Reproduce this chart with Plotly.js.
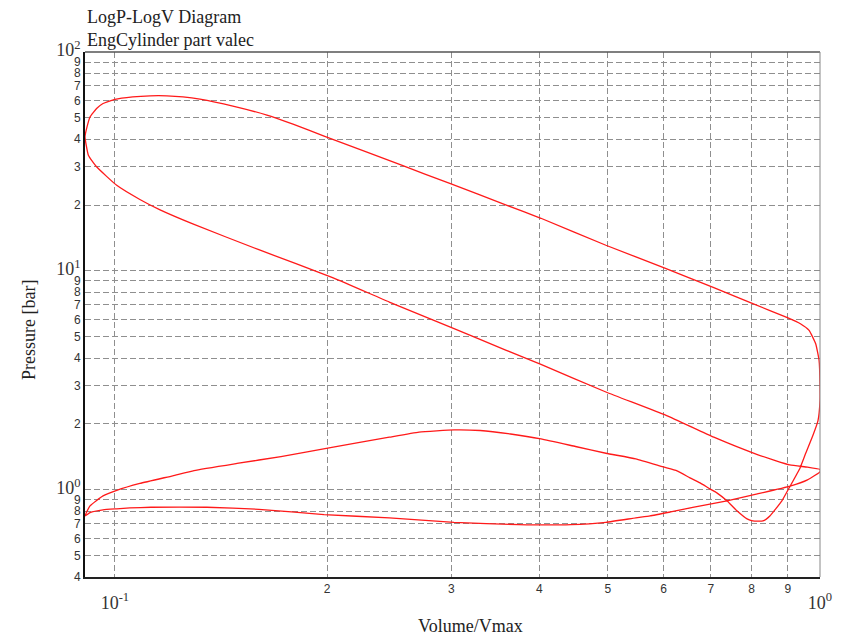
<!DOCTYPE html>
<html>
<head>
<meta charset="utf-8">
<script src="https://cdn.plot.ly/plotly-3.0.1.min.js"></script>
<style>html,body{margin:0;padding:0;background:#fff;}#chart{width:845px;height:636px;}</style>
</head>
<body>
<div id="chart"></div>
<script>
// Cycle traced in order: expansion -> blowdown/exhaust -> intake -> compression -> combustion
const expansionV = [0.0907,0.0913,0.0922,0.0942,0.0962,0.1,0.106,0.1122,0.1185,0.1249,0.132,0.147,0.1643,0.1789,0.198,0.255,0.2985,0.359,0.402,0.497,0.605,0.707,0.803,0.899,0.938,0.965,0.986,0.997,1.0,1.0];
const expansionP = [41.0,45.5,50.5,55.2,58.2,60.8,62.4,63.1,63.1,62.4,60.9,56.6,51.5,46.8,41.3,30.4,25.1,20.0,17.4,13.1,10.25,8.39,7.09,6.12,5.74,5.35,4.65,3.90,3.0,2.55];

const exhaustV = [0.9935,0.977,0.955,0.937,0.907,0.883,0.849,0.83,0.803,0.788,0.763,0.738,0.714,0.698,0.676,0.654,0.627,0.599,0.548,0.497,0.450,0.402,0.364,0.3296,0.3027,0.270,0.245,0.204,0.172,0.149,0.1295,0.1208,0.1085,0.1006,0.0962,0.0922,0.0907];
const exhaustP = [2.07,1.77,1.476,1.26,1.04,0.891,0.76,0.721,0.721,0.737,0.80,0.891,0.969,1.01,1.076,1.135,1.222,1.274,1.386,1.47,1.578,1.71,1.80,1.867,1.88,1.835,1.74,1.567,1.42,1.32,1.225,1.16,1.07,0.995,0.939,0.845,0.760];

const intakeV = [0.0922,0.0962,0.1006,0.105,0.1125,0.135,0.160,0.198,0.245,0.3027,0.374,0.443,0.497,0.548,0.574,0.614,0.66,0.738,0.815,0.907,0.96,1.0];
const intakeP = [0.787,0.81,0.819,0.827,0.833,0.833,0.815,0.771,0.745,0.711,0.694,0.694,0.711,0.745,0.76,0.793,0.831,0.891,0.958,1.04,1.11,1.21];

const compressionV = [1.0,0.96,0.906,0.815,0.707,0.605,0.497,0.402,0.359,0.3027,0.245,0.204,0.160,0.1295,0.1159,0.1085,0.1006,0.0942,0.0917,0.0907];
const compressionP = [1.24,1.27,1.30,1.45,1.74,2.19,2.80,3.74,4.34,5.45,7.21,9.3,12.5,16.3,19.0,21.2,24.6,29.9,33.8,41.0];

const xTickVals = [0.1,0.2,0.3,0.4,0.5,0.6,0.7,0.8,0.9,1];
const xTickText = ['-1','2','3','4','5','6','7','8','9','0'];
const yTickVals = [0.4,0.5,0.6,0.7,0.8,0.9,1,2,3,4,5,6,7,8,9,10,20,30,40,50,60,70,80,90,100];
const yTickText = ['4','5','6','7','8','9','0','2','3','4','5','6','7','8','9','1','2','3','4','5','6','7','8','9','2'];
const yPowerTicks = [1,10,100];
const xPowerTicks = [0.1,1];

const big = (e) => '<span style="font-family:\'Liberation Serif\';font-size:18px">10<sup>' + e + '</sup></span>';
const xText = xTickVals.map((v,i) => xPowerTicks.includes(v) ? '<br>' + big(xTickText[i]) : xTickText[i]);
const yText = yTickVals.map((v,i) => yPowerTicks.includes(v) ? big(yTickText[i]) : yTickText[i]);

const V = expansionV.concat(exhaustV, intakeV, compressionV);
const P = expansionP.concat(exhaustP, intakeP, compressionP);

const trace = {
  x: V, y: P, type: 'scatter', mode: 'lines',
  line: {color: '#ff1a1a', width: 1.3, shape: 'spline', smoothing: 0.4},
  hoverinfo: 'x+y', showlegend: false
};

const gridStyle = {gridcolor: '#8f8f8f', griddash: '6px,3px', gridwidth: 1};

const layout = {
  width: 845, height: 636,
  margin: {l: 85, r: 25, t: 52, b: 59},
  paper_bgcolor: '#fff', plot_bgcolor: '#fff',
  showlegend: false,
  xaxis: Object.assign({
    type: 'log', range: [Math.log10(0.0907), 0],
    tickmode: 'array', tickvals: xTickVals, ticktext: xText,
    tickfont: {family: 'Liberation Sans', size: 12, color: '#333'},
    showline: true, linecolor: '#222', linewidth: 2,
    ticks: '', zeroline: false, fixedrange: true
  }, gridStyle),
  yaxis: Object.assign({
    type: 'log', range: [Math.log10(0.4), 2],
    tickmode: 'array', tickvals: yTickVals, ticktext: yText,
    tickfont: {family: 'Liberation Sans', size: 12, color: '#333'},
    showline: true, linecolor: '#111', linewidth: 2,
    ticks: '', zeroline: false, fixedrange: true
  }, gridStyle),
  shapes: [
    {type: 'line', xref: 'paper', yref: 'paper', x0: 0, x1: 1, y0: 1, y1: 1, line: {color: '#555', width: 1.5}},
    {type: 'line', xref: 'paper', yref: 'paper', x0: 1, x1: 1, y0: 0, y1: 1, line: {color: '#888', width: 1}}
  ],
  annotations: [
    {text: 'LogP-LogV Diagram<br>EngCylinder part valec', xref: 'paper', yref: 'paper',
     x: 0, y: 1 + (52-5)/525, xanchor: 'left', yanchor: 'top', align: 'left', showarrow: false,
     font: {family: 'Liberation Serif', size: 18, color: '#222'}},
    {text: 'Volume/Vmax', xref: 'paper', yref: 'paper', x: (470-85)/735, y: -(626-577)/525,
     xanchor: 'center', yanchor: 'middle', showarrow: false,
     font: {family: 'Liberation Serif', size: 18, color: '#222'}},
    {text: 'Pressure [bar]', xref: 'paper', yref: 'paper', x: -(85-29)/735, y: 1-(330-52)/525,
     xanchor: 'center', yanchor: 'middle', showarrow: false, textangle: -90,
     font: {family: 'Liberation Serif', size: 18, color: '#222'}}
  ]
};

Plotly.newPlot('chart', [trace], layout, {displayModeBar: false, staticPlot: true});
</script>
</body>
</html>
